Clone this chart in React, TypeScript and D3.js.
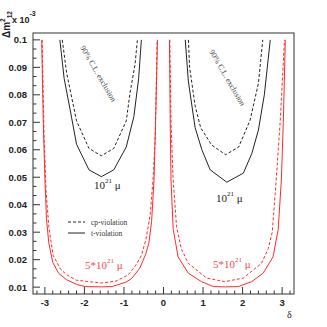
import React from "react";
import * as d3 from "d3";

// [delta, dm2 (x 1e-3)], left and right lobes
const tLowLeft = [
  [-2.62, 0.1], [-2.513, 0.086], [-2.36, 0.0745], [-2.199, 0.062], [-1.885, 0.0527], [-1.571, 0.0502],
  [-1.257, 0.0527], [-0.942, 0.061], [-0.75, 0.072], [-0.628, 0.086], [-0.56, 0.1]
];
const cpLowLeft = [
  [-2.56, 0.1], [-2.45, 0.088], [-2.199, 0.0705], [-1.885, 0.0605], [-1.571, 0.0578],
  [-1.257, 0.0605], [-0.942, 0.0705], [-0.843, 0.081], [-0.72, 0.091], [-0.66, 0.1]
];
const tLowRight = [
  [0.55, 0.1], [0.628, 0.085], [0.8, 0.068], [0.97, 0.06], [1.18, 0.0527], [1.6, 0.0482],
  [2.02, 0.0515], [2.235, 0.0587], [2.4, 0.0672], [2.55, 0.08], [2.7, 0.1]
];
const cpLowRight = [
  [0.63, 0.1], [0.66, 0.09], [0.8, 0.076], [0.94, 0.068], [1.22, 0.0617], [1.57, 0.0582],
  [1.9, 0.061], [2.19, 0.0708], [2.4, 0.0842], [2.51, 0.1]
];
const tHighLeft = [
  [-3.08, 0.1], [-3.04, 0.07], [-3.0, 0.05], [-2.96, 0.035], [-2.9, 0.026], [-2.8, 0.019],
  [-2.65, 0.015], [-2.45, 0.0127], [-2.2, 0.011], [-1.98, 0.0102], [-1.57, 0.0101], [-1.3, 0.0102],
  [-0.95, 0.0118], [-0.8, 0.0132], [-0.6, 0.0169], [-0.45, 0.022], [-0.37, 0.026], [-0.3, 0.034],
  [-0.24, 0.049], [-0.2, 0.07], [-0.152, 0.1]
];
const cpHighLeft = [
  [-3.07, 0.1], [-3.02, 0.065], [-2.97, 0.045], [-2.9, 0.032], [-2.79, 0.0215], [-2.6, 0.0165],
  [-2.45, 0.0145], [-2.2, 0.0125], [-1.57, 0.0115], [-1.2, 0.0122], [-0.89, 0.0145], [-0.7, 0.018],
  [-0.56, 0.0215], [-0.45, 0.027], [-0.34, 0.036], [-0.26, 0.05], [-0.21, 0.065], [-0.16, 0.1]
];
const tHighRight = [
  [0.15, 0.1], [0.17, 0.07], [0.19, 0.049], [0.245, 0.031], [0.37, 0.021], [0.625, 0.0151],
  [0.96, 0.012], [1.26, 0.0102], [1.57, 0.0101], [1.89, 0.0102], [2.23, 0.012], [2.52, 0.0151],
  [2.77, 0.021], [2.9, 0.031], [2.98, 0.049], [3.03, 0.07], [3.08, 0.1]
];
const cpHighRight = [
  [0.16, 0.1], [0.19, 0.07], [0.24, 0.05], [0.33, 0.032], [0.45, 0.024], [0.625, 0.0187],
  [1.09, 0.0133], [1.55, 0.012], [2.02, 0.0133], [2.48, 0.0187], [2.65, 0.024], [2.75, 0.03],
  [2.85, 0.049], [2.95, 0.07], [3.06, 0.1]
];

const xTicks = [-3, -2, -1, 0, 1, 2, 3];
const yTicks = [0.01, 0.02, 0.03, 0.04, 0.05, 0.06, 0.07, 0.08, 0.09, 0.1];

const BLACK = "#222";
const RED = "#ff2b2b";
const RED_TEXT = "#f44a4a";
const sans = "'Liberation Sans', Arial, sans-serif";
const serif = "'Liberation Serif', 'Times New Roman', serif";

export default function App() {
  const x = d3.scaleLinear().domain([-3.3, 3.3]).range([33, 294]);
  const y = d3.scaleLinear().domain([0.0075, 0.1025]).range([294, 33]);
  const line = d3
    .line<number[]>()
    .x(d => x(d[0]))
    .y(d => y(d[1]));

  const xMinor = d3.range(-32, 33, 2).map(v => v / 10).filter(v => !xTicks.includes(v));
  // three sub-divisions per 0.01
  const yMinor = d3
    .range(-1, 29)
    .filter(i => ((i % 3) + 3) % 3 !== 0)
    .map(i => 0.01 + i * (0.01 / 3))
    .filter(v => v > 0.0075 && v < 0.1025);

  const curves = [
    { d: tLowLeft, c: BLACK, dash: null },
    { d: cpLowLeft, c: BLACK, dash: "3,2" },
    { d: tLowRight, c: BLACK, dash: null },
    { d: cpLowRight, c: BLACK, dash: "3,2" },
    { d: tHighLeft, c: RED, dash: null },
    { d: cpHighLeft, c: RED, dash: "3,2" },
    { d: tHighRight, c: RED, dash: null },
    { d: cpHighRight, c: RED, dash: "3,2" }
  ];

  return (
    <svg
      width={327}
      height={327}
      style={{ position: "absolute", left: 0, top: 0, background: "#fff" }}
    >
      {curves.map((k, i) => (
        <path
          key={i}
          d={line(k.d) || ""}
          fill="none"
          stroke={k.c}
          strokeWidth={1}
          strokeDasharray={k.dash || undefined}
        />
      ))}

      {/* frame */}
      <rect x={33} y={33} width={261} height={261} fill="none" stroke="#333" strokeWidth={1} />

      {/* x axis ticks */}
      {xTicks.map(t => (
        <g key={"xt" + t}>
          <line x1={x(t)} x2={x(t)} y1={294} y2={287} stroke="#333" />
          <text
            x={x(t)}
            y={306}
            textAnchor="middle"
            fontFamily={sans}
            fontWeight="bold"
            fontSize={9.5}
            fill="#222"
          >
            {t}
          </text>
        </g>
      ))}
      {xMinor.map(t => (
        <line key={"xm" + t} x1={x(t)} x2={x(t)} y1={294} y2={290.5} stroke="#333" />
      ))}

      {/* y axis ticks */}
      {yTicks.map(t => (
        <g key={"yt" + t}>
          <line x1={33} x2={40} y1={y(t)} y2={y(t)} stroke="#333" />
          <text
            x={27}
            y={y(t) + 3.5}
            textAnchor="end"
            fontFamily={sans}
            fontWeight="bold"
            fontSize={9.5}
            fill="#222"
          >
            {t === 0.1 ? "0.1" : t.toFixed(2)}
          </text>
        </g>
      ))}
      {yMinor.map(t => (
        <line key={"ym" + t} x1={33} x2={36.5} y1={y(t)} y2={y(t)} stroke="#333" />
      ))}

      {/* axis titles */}
      <text x={12} y={23} fontFamily={sans} fontWeight="bold" fontSize={9} fill="#222">
        x 10
        <tspan dy={-7} fontSize={7}>-3</tspan>
      </text>
      <text
        transform="translate(9.5,38) rotate(-90)"
        fontFamily={sans}
        fontWeight="bold"
        fontSize={10}
        fill="#222"
      >
        Δm
        <tspan dy={-4.5} fontSize={6.5}>2</tspan>
        <tspan dy={7} fontSize={6.5}>12</tspan>
      </text>
      <text x={287} y={318} fontFamily={serif} fontSize={10} fill="#222">
        δ
      </text>

      {/* exclusion labels */}
      <text
        transform="translate(96,75) rotate(60)"
        textAnchor="middle"
        fontFamily={serif}
        fontSize={8}
        fill="#444"
      >
        90% C.L. exclusion
      </text>
      <text
        transform="translate(225,79) rotate(60)"
        textAnchor="middle"
        fontFamily={serif}
        fontSize={8}
        fill="#444"
      >
        90% C.L. exclusion
      </text>

      {/* curve labels */}
      <text x={94} y={189} fontFamily={serif} fontSize={11} fill="#222">
        10
        <tspan dy={-6} fontSize={7}>21</tspan>
        <tspan dy={6}> μ</tspan>
      </text>
      <text x={216} y={202} fontFamily={serif} fontSize={11} fill="#222">
        10
        <tspan dy={-6} fontSize={7}>21</tspan>
        <tspan dy={6}> μ</tspan>
      </text>
      <text x={85} y={269} fontFamily={serif} fontSize={11} fill={RED_TEXT}>
        5*10
        <tspan dy={-6} fontSize={7}>21</tspan>
        <tspan dy={6}> μ</tspan>
      </text>
      <text x={213} y={268} fontFamily={serif} fontSize={11} fill={RED_TEXT}>
        5*10
        <tspan dy={-6} fontSize={7}>21</tspan>
        <tspan dy={6}> μ</tspan>
      </text>

      {/* legend */}
      <line x1={68} x2={85} y1={222} y2={222} stroke={BLACK} strokeDasharray="3,2" />
      <text x={91} y={225} fontFamily={serif} fontSize={7.5} fill="#333">
        cp-violation
      </text>
      <line x1={68} x2={85} y1={233} y2={233} stroke={BLACK} />
      <text x={91} y={236} fontFamily={serif} fontSize={7.5} fill="#333">
        t-violation
      </text>
    </svg>
  );
}
